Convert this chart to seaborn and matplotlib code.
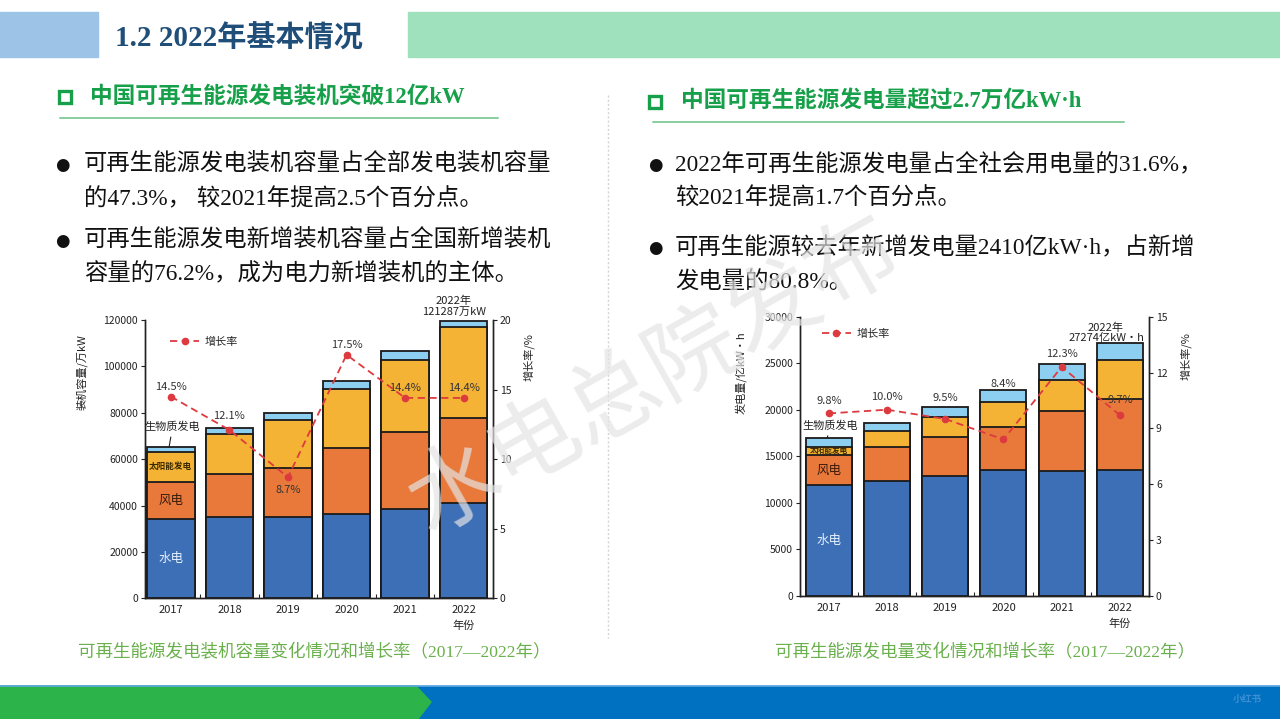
import numpy as np
import pandas as pd
import matplotlib
matplotlib.use("Agg")
import matplotlib.pyplot as plt
import seaborn as sns
from matplotlib.patches import Rectangle, Polygon
from matplotlib.lines import Line2D

# --- Data ---
years = ["2017", "2018", "2019", "2020", "2021", "2022"]

# installed capacity, 万kW
cap_hydro = [34100, 34900, 35200, 36400, 38700, 41000]
cap_wind = [16200, 18700, 21000, 28400, 32900, 36900]
cap_solar = [12900, 17300, 20700, 25300, 31200, 38950]
cap_bio = [1900, 2400, 3100, 3600, 3700, 2900]
cap_rate = [14.5, 12.1, 8.7, 17.5, 14.4, 14.4]
cap_total_label = "2022年\n121287万kW"

# generation, 亿kW·h
gen_hydro = [11900, 12330, 12870, 13510, 13370, 13510]
gen_wind = [3220, 3690, 4230, 4660, 6490, 7600]
gen_solar = [900, 1690, 2150, 2620, 3330, 4230]
gen_bio = [900, 890, 1070, 1320, 1680, 1790]
gen_rate = [9.8, 10.0, 9.5, 8.4, 12.3, 9.7]
gen_total_label = "2022年\n27274亿kW·h"

# label offsets for the growth-rate numbers (points)
cap_label_dy = [7, 10, -9, 7, 7, 7]
gen_label_dy = [9, 9, 15, 40, 9, 11]

# --- Style ---
sns.set_theme(style="ticks")
CJK = ["Noto Sans CJK SC", "DejaVu Sans"]
MIX = ["Liberation Serif", "Noto Sans CJK SC", "DejaVu Sans"]
plt.rcParams["font.family"] = CJK
plt.rcParams["axes.unicode_minus"] = False

COLORS = ["#3d6fb6", "#e8793a", "#f5b335", "#8dcff0"]
RED = "#dd3a40"
GREEN = "#17a04a"
W, H = 1280, 719


def fx(x):
    return x / W


def fy(y):
    return 1 - y / H


def draw_stack(ax, layers, width):
    tops = np.cumsum(np.array(layers, dtype=float), axis=0)
    for top, color in zip(tops[::-1], COLORS[::-1]):
        frame = pd.DataFrame({"年份": years, "值": top})
        sns.barplot(data=frame, x="年份", y="值", color=color, saturation=1,
                    width=width, edgecolor="#1a1a1a", linewidth=1.3,
                    errorbar=None, ax=ax)
    return tops


def chart(rect, layers, rate, width, xlim, ylim, yticks, rlim, rticks,
          ylabel, label_dy, total_label, total_off, ylab_pos, rlab_pos,
          legend_pos, bio_text, seg_sizes):
    ax = fig.add_axes(rect)
    tops = draw_stack(ax, layers, width)
    ax.set_xlim(*xlim)
    ax.set_ylim(*ylim)
    ax.set_yticks(yticks)
    ax.set_xlabel("")
    ax.set_ylabel(ylabel, fontsize=8, color="#222")
    ax.yaxis.set_label_coords(*ylab_pos)
    ax.set_xticks(np.arange(len(years)) + 0.5, minor=True)
    ax.tick_params(axis="x", which="major", length=0, labelsize=8, pad=5, colors="#222")
    ax.tick_params(axis="x", which="minor", direction="in", length=3, width=0.8)
    ax.tick_params(axis="y", direction="out", length=3, width=0.8, labelsize=7.5,
                   pad=2, colors="#222")
    for b in ax.patches:
        b.set_clip_on(False)

    ax2 = ax.twinx()
    ax2.plot(np.arange(len(years)), rate, ls=(0, (4, 2.5)), color=RED, lw=1.3,
             marker="o", ms=4.5, label="增长率")
    ax2.set_ylim(*rlim)
    ax2.set_yticks(rticks)
    ax2.tick_params(axis="y", direction="out", length=3, width=0.8, labelsize=7.5,
                    pad=2, colors="#222")
    ax2.set_ylabel("增长率/%", fontsize=8, color="#222", rotation=90)
    ax2.yaxis.set_label_coords(*rlab_pos)
    for a in (ax, ax2):
        a.spines["top"].set_visible(False)
        for s in ("left", "right", "bottom"):
            a.spines[s].set_color("#222")
            a.spines[s].set_linewidth(1.0)

    for i, (v, dy) in enumerate(zip(rate, label_dy)):
        ax2.annotate(f"{v:.1f}%", (i, v), xytext=(0, dy), textcoords="offset points",
                     ha="center", va="center", fontsize=8, color="#333")

    ax2.legend(loc="center left", bbox_to_anchor=legend_pos, frameon=False,
               fontsize=8, handlelength=2.6, handletextpad=0.5, borderpad=0,
               borderaxespad=0, numpoints=1)

    # total for 2022
    ax.annotate(total_label, (len(years) - 1, tops[-1][-1]), xytext=total_off,
                textcoords="offset points", ha="center", va="bottom",
                fontsize=8, color="#222", linespacing=1.05,
                annotation_clip=False)

    # series names on the 2017 bar
    mids = tops - np.array(layers, dtype=float) / 2
    ax.annotate("生物质发电", (-0.03, tops[-1][0]), xytext=bio_text,
                textcoords="data", ha="center", va="center", fontsize=8,
                color="#222", arrowprops=dict(arrowstyle="-", lw=0.8, color="#222",
                                              shrinkA=1, shrinkB=0))
    ax.text(0, mids[2][0], "太阳能发电", ha="center", va="center",
            fontsize=seg_sizes[0], color="#3a2a00", fontweight="bold")
    ax.text(0, mids[1][0], "风电", ha="center", va="center", fontsize=9,
            color="#3a1a0a")
    ax.text(0, mids[0][0], "水电", ha="center", va="center", fontsize=9,
            color="#e6f2ff")
    ax.annotate("年份", (len(years) - 1, 0), xycoords=("data", "axes fraction"),
                xytext=(0, -20), textcoords="offset points", ha="center",
                va="center", fontsize=8, color="#222")
    return ax


fig = plt.figure(figsize=(W / 100, H / 100), dpi=100)
fig.patch.set_facecolor("white")

# --- Header ---
fig.patches.append(Rectangle((fx(0), fy(57)), fx(98), 45 / H, transform=fig.transFigure,
                             color="#9dc3e6", zorder=0))
fig.patches.append(Rectangle((fx(408), fy(57)), fx(872), 45 / H, transform=fig.transFigure,
                             color="#9fe0bd", zorder=0))
fig.text(fx(115), fy(38), "1.2 2022年基本情况", family=MIX, fontsize=21,
         fontweight="bold", color="#1f4e79", va="center", ha="left")

# --- Sub headings ---
for (sx, sy), (tx, ty), text, (l0, l1, ly) in [
    ((59, 103), (90, 97), "中国可再生能源发电装机突破12亿kW", (60, 498, 118)),
    ((649, 108), (681, 101), "中国可再生能源发电量超过2.7万亿kW·h", (653, 1124, 122)),
]:
    fig.patches.append(Rectangle((fx(sx), fy(sy)), 12 / W, 12 / H, transform=fig.transFigure,
                                 fill=False, edgecolor=GREEN, lw=2.4))
    fig.text(fx(tx), fy(ty), text, family=MIX, fontsize=16.3, fontweight="bold",
             color=GREEN, va="center", ha="left")
    fig.lines.append(Line2D([fx(l0), fx(l1)], [fy(ly), fy(ly)], transform=fig.transFigure,
                            color="#86cf9c", lw=1.4))

# divider
fig.lines.append(Line2D([fx(608), fx(608)], [fy(95), fy(638)], transform=fig.transFigure,
                        color="#d4d4d4", lw=1.0, ls=(0, (1.5, 1.5))))

# --- Bullets ---
bullets = [
    (62, 84, 165, "可再生能源发电装机容量占全部发电装机容量", True),
    (62, 84, 199, "的47.3%， 较2021年提高2.5个百分点。", False),
    (62, 84, 241, "可再生能源发电新增装机容量占全国新增装机", True),
    (62, 84, 274, "容量的76.2%，成为电力新增装机的主体。", False),
    (655, 675, 165, "2022年可再生能源发电量占全社会用电量的31.6%，", True),
    (655, 675, 199, "较2021年提高1.7个百分点。", False),
    (655, 675, 248, "可再生能源较去年新增发电量2410亿kW·h，占新增", True),
    (655, 675, 283, "发电量的80.8%。", False),
]
for bx, tx, y, text, dot in bullets:
    if dot:
        fig.text(fx(bx), fy(y), "●", fontsize=12, family=["DejaVu Sans"],
                 ha="center", va="center", color="#111")
    fig.text(fx(tx), fy(y), text, family=MIX, fontsize=16.8, color="#111",
             ha="left", va="center")

# --- Charts ---
chart([fx(145), fy(598.3), 348 / W, 278.3 / H],
      [cap_hydro, cap_wind, cap_solar, cap_bio], cap_rate, 0.81,
      (-0.44, 5.46), (0, 120000), np.arange(0, 120001, 20000), (0, 20),
      np.arange(0, 21, 5), "装机容量/万kW", cap_label_dy, cap_total_label, (-7, 3),
      (-0.164, 0.814), (1.086, 0.868), (0.072, 0.92), (0.03, 73800), (6.2,))

chart([fx(800), fy(595.7), 349 / W, 279 / H],
      [gen_hydro, gen_wind, gen_solar, gen_bio], gen_rate, 0.79,
      (-0.495, 5.46), (0, 30000), np.arange(0, 30001, 5000), (0, 15),
      np.arange(0, 16, 3), "发电量/亿kW·h", gen_label_dy, gen_total_label, (-10, 0),
      (-0.152, 0.798), (1.089, 0.859), (0.063, 0.94), (0.03, 18250), (5.5,))

# --- Captions ---
fig.text(fx(314), fy(653), "可再生能源发电装机容量变化情况和增长率（2017—2022年）",
         family=MIX, fontsize=12.6, color="#6ab04c", ha="center", va="center")
fig.text(fx(985), fy(653), "可再生能源发电量变化情况和增长率（2017—2022年）",
         family=MIX, fontsize=12.6, color="#6ab04c", ha="center", va="center")

# --- Watermark ---
fig.text(fx(655), fy(377), "水电总院发布", fontsize=66, color="#e4e4e4", alpha=0.7,
         fontweight="light", rotation=29.5, ha="center", va="center", zorder=10)

# --- Footer ---
fig.patches.append(Rectangle((0, 0), 1, 33 / H, transform=fig.transFigure,
                             color="#0070c0", zorder=0))
fig.lines.append(Line2D([0, 1], [fy(686), fy(686)], transform=fig.transFigure,
                        color="#5fa8e3", lw=1.2))
fig.patches.append(Polygon([(0, fy(686)), (fx(416), fy(686)), (fx(431), fy(702)),
                            (fx(418), fy(719)), (0, fy(719))], closed=True,
                           transform=fig.transFigure, color="#2cb34a", zorder=1))
fig.text(fx(1247), fy(699), "小红书", fontsize=7, fontweight="bold", color="#3d8fd4",
         ha="center", va="center")

fig.savefig("out.png", dpi=100)
plt.close(fig)
